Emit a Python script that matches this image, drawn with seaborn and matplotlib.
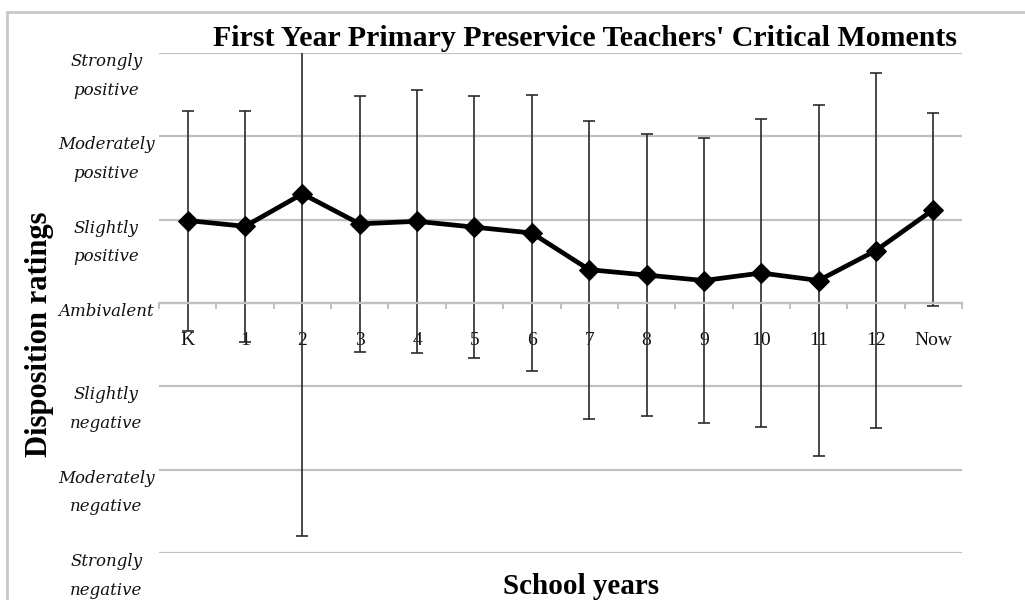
import numpy as np
import pandas as pd
import matplotlib
matplotlib.use("Agg")
import matplotlib.pyplot as plt
import seaborn as sns
from matplotlib.ticker import FixedLocator
from matplotlib.lines import Line2D

# ---- data ----
categories = ["K", "1", "2", "3", "4", "5", "6", "7", "8", "9", "10", "11", "12", "Now"]
means = [0.99, 0.92, 1.31, 0.95, 0.98, 0.91, 0.84, 0.40, 0.335, 0.27, 0.36, 0.27, 0.63, 1.12]
errors = [1.32, 1.39, 4.10, 1.54, 1.58, 1.57, 1.66, 1.79, 1.69, 1.71, 1.85, 2.11, 2.13, 1.16]
rating_values = [-3, -2, -1, 0, 1, 2, 3]
rating_labels = ["Strongly\nnegative", "Moderately\nnegative", "Slightly\nnegative", "Ambivalent",
                 "Slightly\npositive", "Moderately\npositive", "Strongly\npositive"]
title = "First Year Primary Preservice Teachers' Critical Moments"
xlabel = "School years"
ylabel = "Disposition ratings"

df = pd.DataFrame({"year": categories, "rating": means, "err": errors})

sns.set_theme(style="white")
plt.rcParams["font.family"] = ["Liberation Serif", "DejaVu Serif"]

W, H = 1025, 600
fig = plt.figure(figsize=(W / 100, H / 100), dpi=100)
ax = fig.add_axes([159 / W, 1 - 553 / H, (962 - 159) / W, (553 - 53) / H])

grid_c = "#c0c0c0"
# horizontal gridlines
for v in rating_values:
    ax.axhline(v, color=grid_c, lw=1.6, zorder=0)

# error bars
ax.errorbar(df["year"], df["rating"], yerr=df["err"], fmt="none",
            ecolor="#2a2a2a", elinewidth=1.2, capsize=4, capthick=1.2, zorder=2)

# line with diamond markers
sns.lineplot(data=df, x="year", y="rating", ax=ax, color="black", lw=3.4,
             marker="D", markersize=10, markeredgecolor="black", sort=False, zorder=3)

ax.set_xlim(-0.5, len(categories) - 0.5)
ax.set_ylim(-3, 3)

# spines
for s in ["left", "right", "top"]:
    ax.spines[s].set_visible(False)
ax.spines["bottom"].set_position(("data", 0))
ax.spines["bottom"].set_color(grid_c)
ax.spines["bottom"].set_linewidth(1.6)

# x ticks
ax.set_xticks(range(len(categories)))
ax.set_xticklabels(categories)
ax.xaxis.set_minor_locator(FixedLocator(np.arange(-0.5, len(categories), 1.0)))
ax.tick_params(axis="x", which="major", length=0, pad=21, labelsize=14, labelcolor="#111111")
ax.tick_params(axis="x", which="minor", length=4, width=1.4, color=grid_c, direction="out")
ax.xaxis.set_ticks_position("bottom")

# y ticks
ax.set_yticks(rating_values)
ax.set_yticklabels(rating_labels)
ax.tick_params(axis="y", which="major", length=0, pad=38, labelsize=12, labelcolor="#111111")
for lab in ax.get_yticklabels():
    lab.set_fontfamily(["DejaVu Serif"])
    lab.set_fontstyle("italic")
    lab.set_ha("center")
    lab.set_va("top")
    lab.set_linespacing(1.9)

ax.set_xlabel("")
ax.set_ylabel("")
ax.grid(False)

# titles
fig.text(585 / W, 1 - 38 / H, title, ha="center", va="center",
         fontsize=21.5, fontweight="bold", color="black")
fig.text(581 / W, 1 - 586 / H, xlabel, ha="center", va="center",
         fontsize=21, fontweight="bold", color="black")
fig.text(40 / W, 1 - 334 / H, ylabel, ha="center", va="center", rotation=90,
         fontsize=22, fontweight="bold", color="black")

# outer frame (left and top edges visible)
fig.add_artist(Line2D([7 / W, 7 / W], [0, 1 - 12 / H], transform=fig.transFigure,
                      color="#c8c8c8", lw=2))
fig.add_artist(Line2D([7 / W, 1], [1 - 12 / H, 1 - 12 / H], transform=fig.transFigure,
                      color="#c8c8c8", lw=2))

fig.savefig("out.png", dpi=100, facecolor="white")
